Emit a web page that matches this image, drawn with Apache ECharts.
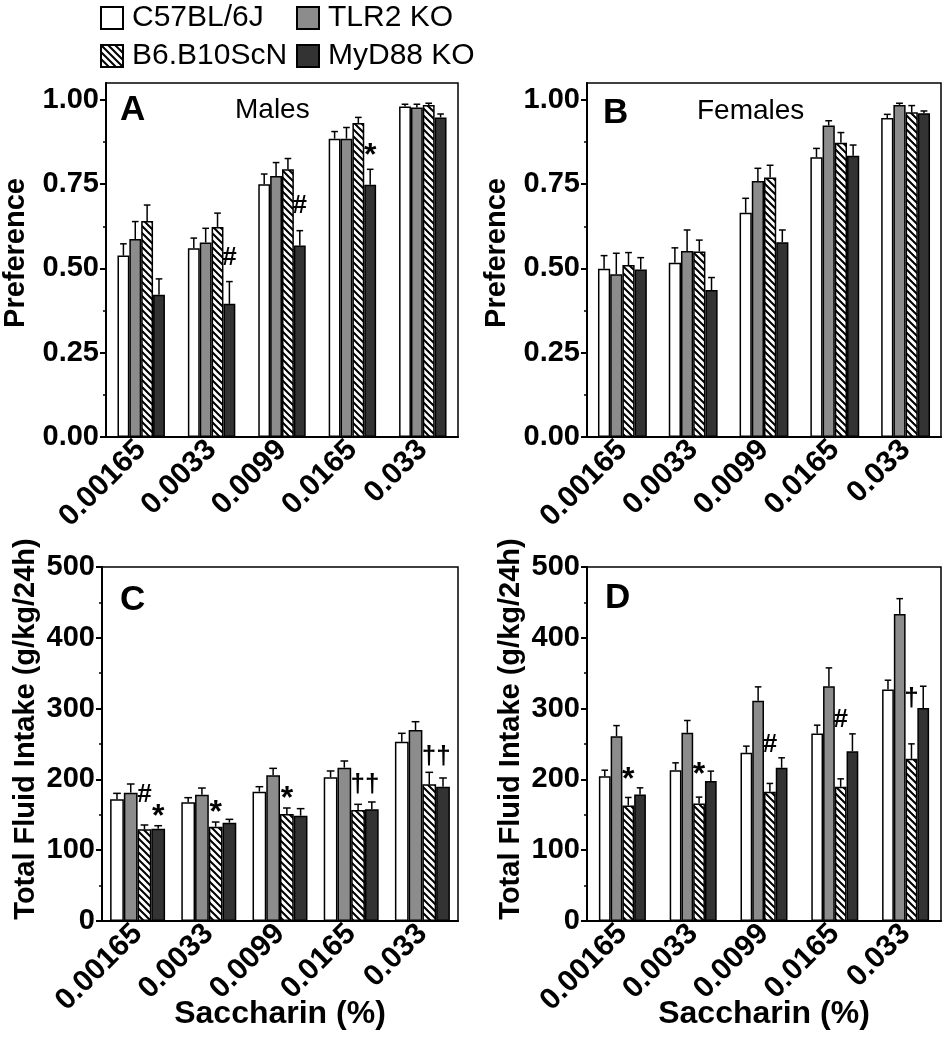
<!DOCTYPE html>
<html><head><meta charset="utf-8">
<script src="https://cdn.jsdelivr.net/npm/echarts@6/dist/echarts.min.js"></script>
<style>html,body{margin:0;padding:0;background:#fff}#c{width:944px;height:1050px}</style>
</head><body><div id="c"></div>
<script>
// ---------- DATA ----------
const categories = ['0.00165', '0.0033', '0.0099', '0.0165', '0.033'];
const seriesNames = ['C57BL/6J', 'TLR2 KO', 'B6.B10ScN', 'MyD88 KO'];
const prefTicks = [0, 0.25, 0.5, 0.75, 1.0];
const intakeTicks = [0, 100, 200, 300, 400, 500];

// Panel A: Males preference
const prefMaleC57 = [0.538, 0.560, 0.750, 0.885, 0.980];
const prefMaleC57Err = [0.035, 0.030, 0.030, 0.021, 0.007];
const prefMaleTLR2 = [0.587, 0.577, 0.774, 0.885, 0.977];
const prefMaleTLR2Err = [0.052, 0.042, 0.040, 0.033, 0.010];
const prefMaleB6 = [0.641, 0.623, 0.794, 0.931, 0.985];
const prefMaleB6Err = [0.047, 0.041, 0.032, 0.017, 0.005];
const prefMaleMyD88 = [0.422, 0.395, 0.568, 0.748, 0.948];
const prefMaleMyD88Err = [0.047, 0.066, 0.044, 0.046, 0.010];

// Panel B: Females preference
const prefFemC57 = [0.499, 0.517, 0.665, 0.830, 0.946];
const prefFemC57Err = [0.039, 0.044, 0.043, 0.026, 0.011];
const prefFemTLR2 = [0.483, 0.552, 0.759, 0.924, 0.985];
const prefFemTLR2Err = [0.062, 0.062, 0.038, 0.014, 0.005];
const prefFemB6 = [0.510, 0.550, 0.770, 0.873, 0.963];
const prefFemB6Err = [0.037, 0.034, 0.036, 0.030, 0.020];
const prefFemMyD88 = [0.497, 0.436, 0.578, 0.834, 0.960];
const prefFemMyD88Err = [0.035, 0.037, 0.036, 0.032, 0.007];

// Panel C: Males total fluid intake
const intakeMaleC57 = [171.8, 167.6, 182.7, 202.9, 253.3];
const intakeMaleC57Err = [8.5, 6.6, 7.0, 9.0, 11.8];
const intakeMaleTLR2 = [181.3, 178.4, 205.7, 216.6, 269.8];
const intakeMaleTLR2Err = [12.2, 9.4, 9.9, 9.4, 11.7];
const intakeMaleB6 = [129.5, 133.2, 151.1, 156.8, 193.0];
const intakeMaleB6Err = [6.1, 6.6, 8.5, 8.0, 17.0];
const intakeMaleMyD88 = [130.4, 138.9, 148.8, 157.7, 189.7];
const intakeMaleMyD88Err = [4.2, 4.7, 9.9, 10.4, 12.3];

// Panel D: Females total fluid intake
const intakeFemC57 = [204.6, 213.1, 237.5, 264.8, 326.9];
const intakeFemC57Err = [8.4, 10.3, 9.5, 11.8, 13.2];
const intakeFemTLR2 = [261.0, 265.8, 311.0, 331.6, 433.7];
const intakeFemTLR2Err = [15.0, 17.4, 19.7, 25.9, 21.6];
const intakeFemB6 = [163.2, 166.0, 182.5, 189.6, 229.1];
const intakeFemB6Err = [11.3, 9.0, 11.8, 11.2, 21.1];
const intakeFemMyD88 = [178.7, 197.6, 216.4, 239.9, 301.0];
const intakeFemMyD88Err = [9.4, 14.1, 14.1, 24.4, 30.6];

// Significance marks: [category index, first series, last series, symbol, level]
const marksA = [[1, 3, 3, '#', 0.531], [2, 3, 3, '#', 0.685], [3, 3, 3, '*', 0.852]];
const marksB = [];
const marksC = [[0, 2, 2, '#', 178], [0, 3, 3, '*', 155], [1, 2, 2, '*', 161], [2, 2, 2, '*', 181], [3, 2, 3, '\u2020\u2020', 192], [4, 2, 3, '\u2020\u2020', 232]];
const marksD = [[0, 2, 2, '*', 208], [1, 2, 2, '*', 215], [2, 2, 2, '#', 249], [3, 2, 2, '#', 284], [4, 2, 2, '\u2020', 314]];

// ---------- STYLE / LAYOUT ----------
const FONT = '"Liberation Sans", Arial, Helvetica, sans-serif';
function hatchCanvas() {
  const s = 7;
  const c = document.createElement('canvas');
  c.width = s; c.height = s;
  const g = c.getContext('2d');
  g.fillStyle = '#fff'; g.fillRect(0, 0, s, s);
  g.strokeStyle = '#000'; g.lineWidth = 2;
  g.beginPath();
  g.moveTo(-2, -2); g.lineTo(s + 2, s + 2);
  g.moveTo(-s - 2, -2); g.lineTo(2, s + 2);
  g.moveTo(s - 2, -2); g.lineTo(2 * s + 2, s + 2);
  g.stroke();
  return c;
}
const hatch = { image: hatchCanvas(), repeat: 'repeat' };
const fills = ['#ffffff', '#8c8c8c', hatch, '#333333'];

const panels = [
  { grid: { left: 102, top: 83, width: 356, height: 354 }, max: 1.05, major: prefTicks,
    minor: [0.125, 0.375, 0.625, 0.875], fmt: v => v.toFixed(2), yName: 'Preference', yGap: 76, yPad: 14,
    xName: '', gapFrac: 0.326,
    values: [prefMaleC57, prefMaleTLR2, prefMaleB6, prefMaleMyD88],
    errs: [prefMaleC57Err, prefMaleTLR2Err, prefMaleB6Err, prefMaleMyD88Err], marks: marksA },
  { grid: { left: 587, top: 83, width: 354, height: 354 }, max: 1.05, major: prefTicks,
    minor: [0.125, 0.375, 0.625, 0.875], fmt: v => v.toFixed(2), yName: 'Preference', yGap: 76, yPad: 14,
    xName: '', gapFrac: 0.31,
    values: [prefFemC57, prefFemTLR2, prefFemB6, prefFemMyD88],
    errs: [prefFemC57Err, prefFemTLR2Err, prefFemB6Err, prefFemMyD88Err], marks: marksB },
  { grid: { left: 102, top: 567, width: 356, height: 354 }, max: 500, major: intakeTicks,
    minor: [50, 150, 250, 350, 450], fmt: v => String(v), yName: 'Total Fluid Intake (g/kg/24h)', yGap: 62, yPad: 30,
    xName: 'Saccharin (%)', gapFrac: 0.228,
    values: [intakeMaleC57, intakeMaleTLR2, intakeMaleB6, intakeMaleMyD88],
    errs: [intakeMaleC57Err, intakeMaleTLR2Err, intakeMaleB6Err, intakeMaleMyD88Err], marks: marksC },
  { grid: { left: 587, top: 567, width: 354, height: 354 }, max: 500, major: intakeTicks,
    minor: [50, 150, 250, 350, 450], fmt: v => String(v), yName: 'Total Fluid Intake (g/kg/24h)', yGap: 62, yPad: 30,
    xName: 'Saccharin (%)', gapFrac: 0.336,
    values: [intakeFemC57, intakeFemTLR2, intakeFemB6, intakeFemMyD88],
    errs: [intakeFemC57Err, intakeFemTLR2Err, intakeFemB6Err, intakeFemMyD88Err], marks: marksD }
];

const grid = [], xAxis = [], yAxis = [], series = [];
panels.forEach((p, i) => {
  grid.push(Object.assign({ show: true, borderColor: '#000', borderWidth: 1.5, backgroundColor: 'transparent' }, p.grid));
  xAxis.push({
    gridIndex: i, type: 'category', data: categories,
    axisLine: { lineStyle: { color: '#000', width: 2 } },
    axisTick: { show: false },
    axisLabel: { interval: 0, rotate: 45, margin: 8, color: '#000', fontFamily: FONT, fontWeight: 'bold', fontSize: 30 },
    name: p.xName, nameLocation: 'middle', nameGap: 77, nameMoveOverlap: false,
    nameTextStyle: { color: '#000', fontFamily: FONT, fontWeight: 'bold', fontSize: 32 }
  });
  yAxis.push({
    gridIndex: i, type: 'value', position: 'left', min: 0, max: p.max,
    axisLine: { show: true, lineStyle: { color: '#000', width: 2 } },
    axisTick: { show: true, length: 6, customValues: p.major, lineStyle: { color: '#000', width: 2 } },
    axisLabel: { customValues: p.major, formatter: p.fmt, margin: 7, color: '#000', fontFamily: FONT, fontWeight: 'bold', fontSize: 29 },
    splitLine: { show: false },
    name: p.yName, nameLocation: 'middle', nameGap: p.yGap, nameRotate: 90, nameMoveOverlap: false,
    nameTextStyle: { color: '#000', fontFamily: FONT, fontWeight: 'bold', fontSize: 29, padding: [0, 0, 0, p.yPad] }
  });
  yAxis.push({
    gridIndex: i, type: 'value', position: 'left', min: 0, max: p.max,
    axisLine: { show: false }, axisLabel: { show: false }, splitLine: { show: false },
    axisTick: { show: true, length: 3, customValues: p.minor, lineStyle: { color: '#000', width: 1.5 } }
  });
  p.values.forEach((vals, k) => {
    series.push({
      type: 'bar', name: seriesNames[k], xAxisIndex: i, yAxisIndex: 2 * i, data: vals,
      barGap: '0%', barCategoryGap: (p.gapFrac * 100).toFixed(1) + '%',
      itemStyle: { color: fills[k], borderColor: '#000', borderWidth: 1.5 },
      emphasis: { disabled: true }, silent: true
    });
  });
  const errData = [];
  p.values.forEach((vals, k) => vals.forEach((v, c) => errData.push([c, k, v, p.errs[k][c]])));
  const gf = p.gapFrac;
  series.push({
    type: 'custom', xAxisIndex: i, yAxisIndex: 2 * i, data: errData, silent: true, z: 5,
    encode: { x: 0, y: 2 },
    renderItem: function (params, api) {
      const cat = api.value(0), s = api.value(1), v = api.value(2), e = api.value(3);
      const band = api.size([1, 0])[0];
      const gw = band * (1 - gf), bw = gw / 4;
      const b = api.coord([cat, v]), t = api.coord([cat, v + e]);
      const x = b[0] - gw / 2 + (s + 0.5) * bw;
      const h = bw * 0.28;
      return { type: 'group', children: [
        { type: 'line', shape: { x1: x, y1: b[1], x2: x, y2: t[1] }, style: { stroke: '#000', lineWidth: 1.5 } },
        { type: 'line', shape: { x1: x - h, y1: t[1], x2: x + h, y2: t[1] }, style: { stroke: '#000', lineWidth: 1.5 } }
      ] };
    }
  });
  const marks = p.marks;
  series.push({
    type: 'custom', xAxisIndex: i, yAxisIndex: 2 * i, data: marks.map(m => [m[0], m[4]]), silent: true, z: 6,
    encode: { x: 0, y: 1 },
    renderItem: function (params, api) {
      const m = marks[params.dataIndex];
      const band = api.size([1, 0])[0];
      const gw = band * (1 - gf), bw = gw / 4;
      const c = api.coord([api.value(0), api.value(1)]);
      const x = c[0] - gw / 2 + ((m[1] + m[2]) / 2 + 0.5) * bw;
      const star = m[3] === '*';
      const fs = star ? 32 : 26;
      return { type: 'text', x: x, y: c[1] + (star ? 0.2 * fs : 0),
        style: { text: m[3], fontFamily: FONT, fontWeight: 'bold', fontSize: fs, align: 'center', verticalAlign: 'middle', fill: '#000' } };
    }
  });
});

const legendPos = [[100, 3], [296, 3], [100, 41], [296, 41]];
const legend = seriesNames.map((n, k) => ({
  data: [n], left: legendPos[k][0], top: legendPos[k][1], padding: 0, itemGap: 0,
  icon: 'rect', itemWidth: 22, itemHeight: 22, selectedMode: false,
  textStyle: { color: '#000', fontFamily: FONT, fontSize: 30, padding: [0, 0, 0, 4] }
}));

const titleStyle = (size, weight) => ({ color: '#000', fontFamily: FONT, fontSize: size, fontWeight: weight });
const title = [
  { text: 'A', left: 120, top: 93, padding: 0, textStyle: titleStyle(35, 'bold') },
  { text: 'Males', left: 235, top: 96, padding: 0, textStyle: titleStyle(28, 'normal') },
  { text: 'B', left: 603, top: 96, padding: 0, textStyle: titleStyle(35, 'bold') },
  { text: 'Females', left: 697, top: 97, padding: 0, textStyle: titleStyle(28, 'normal') },
  { text: 'C', left: 120, top: 583, padding: 0, textStyle: titleStyle(35, 'bold') },
  { text: 'D', left: 605, top: 581, padding: 0, textStyle: titleStyle(35, 'bold') }
];

const chart = echarts.init(document.getElementById('c'), null, { renderer: 'canvas' });
chart.setOption({
  backgroundColor: '#fff', animation: false,
  textStyle: { fontFamily: FONT },
  title, legend, grid, xAxis, yAxis, series
});
</script></body></html>
